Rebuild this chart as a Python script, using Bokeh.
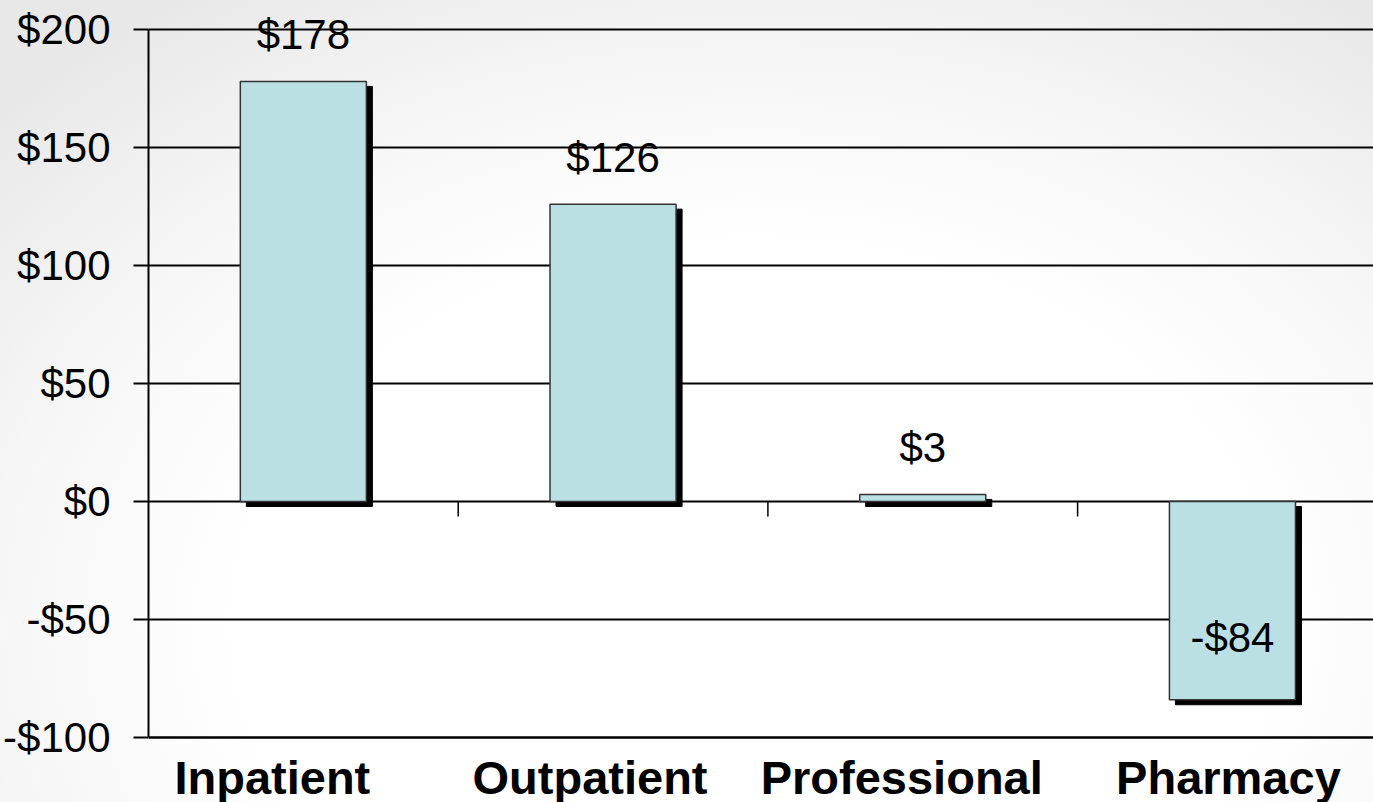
import numpy as np
from bokeh.plotting import figure
from bokeh.models import Range1d, FixedTicker, ColumnDataSource, LabelSet
from bokeh.core.properties import value
from bokeh.embed import file_html
from bokeh.resources import INLINE

# ---- data ----
categories = ["Inpatient", "Outpatient", "Professional", "Pharmacy"]
values = [178, 126, 3, -84]
y_ticks = [-100, -50, 0, 50, 100, 150, 200]
y_tick_labels = ["-$100", "-$50", "$0", "$50", "$100", "$150", "$200"]

FONT = "Liberation Sans"

W, H = 1373, 802
LEFT, TOP, BOTTOM = 148, 29, 65
frame_w = W - LEFT
plot_h = H - TOP - BOTTOM            # pixels between 200 and -100
n = len(categories)
cat_px = 309.7
x_end = -0.5 + frame_w / cat_px
px_x = 1.0 / cat_px                    # data units per pixel in x
px_y = 300.0 / plot_h                  # data units per pixel in y
y_lo, y_hi = min(y_ticks), max(y_ticks)
y_top = y_hi + TOP * px_y              # frame reaches the canvas top
y_bot = y_lo - BOTTOM * px_y           # and the canvas bottom

p = figure(width=W, height=H, output_backend="svg", toolbar_location=None,
           x_range=Range1d(-0.5, x_end), y_range=Range1d(y_bot, y_top),
           min_border_left=LEFT, min_border_top=0, min_border_bottom=0,
           min_border_right=0)
p.border_fill_color = None
p.background_fill_color = None
p.outline_line_color = None
p.styles = {"background-image":
            "radial-gradient(ellipse 75% 95% at 55% 78%, #ffffff 50%, #f7f7f7 72%, #e8e8e8 100%)"}

idx = np.arange(n)
vals = np.array(values, dtype=float)
src = ColumnDataSource(dict(
    x=idx, top=vals, bottom=np.zeros(n),
    sx=idx + 6 * px_x, stop=vals - 5 * px_y, sbottom=np.zeros(n) - 5 * px_y,
    label=[f"${v}" if v >= 0 else f"-${-v}" for v in values],
    off=np.where(vals >= 0, 32, 48),
))

# shadows
p.vbar(x="sx", top="stop", bottom="sbottom", width=0.407, source=src,
       fill_color="black", line_color="black")
# bars
p.vbar(x="x", top="top", bottom="bottom", width=0.407, source=src,
       fill_color="#BAE0E3", line_color="#333333", line_width=1.5)

# category boundary ticks at zero line
bx = idx[1:] - 0.5
p.segment(x0=bx, y0=np.zeros(n - 1), x1=bx, y1=np.zeros(n - 1) - 15 * px_y,
          line_color="black", line_width=1.5)

# bottom axis line at -100
p.segment(x0=[-0.5], y0=[y_lo], x1=[x_end], y1=[y_lo],
          line_color="black", line_width=2)

# value labels
p.add_layout(LabelSet(x="x", y="top", text="label", y_offset="off", source=src,
                      text_align="center", text_baseline="alphabetic",
                      text_font=value(FONT), text_font_size=value("42px"),
                      text_color="black"))

# category labels (slightly left of the bar centres, as in the original)
cat_dx = [-31, -23, -21, -4]
cat_src = ColumnDataSource(dict(x=idx, y=np.full(n, y_lo), text=categories, dx=cat_dx))
p.add_layout(LabelSet(x="x", y="y", text="text", x_offset="dx", y_offset=-56,
                      source=cat_src, text_align="center", text_baseline="alphabetic",
                      text_font=value(FONT), text_font_style=value("bold"),
                      text_font_size=value("47px"), text_color="black"))

# y axis
ya = p.yaxis[0]
ya.ticker = FixedTicker(ticks=y_ticks)
ya.bounds = (y_lo, y_hi)
ya.major_label_overrides = {t: l for t, l in zip(y_ticks, y_tick_labels)}
ya.major_label_text_font = FONT
ya.major_label_text_font_size = "42px"
ya.major_label_text_color = "black"
ya.major_tick_out = 15
ya.major_tick_in = 0
ya.minor_tick_out = 0
ya.minor_tick_in = 0
ya.major_label_standoff = 23
ya.axis_line_width = 2
ya.axis_line_color = "black"
ya.major_tick_line_width = 2

p.xaxis.visible = False
p.xgrid.visible = False
p.ygrid.ticker = FixedTicker(ticks=y_ticks)
p.ygrid.grid_line_color = "black"
p.ygrid.grid_line_width = 1.8

open("out.html", "w").write(file_html(p, INLINE))
